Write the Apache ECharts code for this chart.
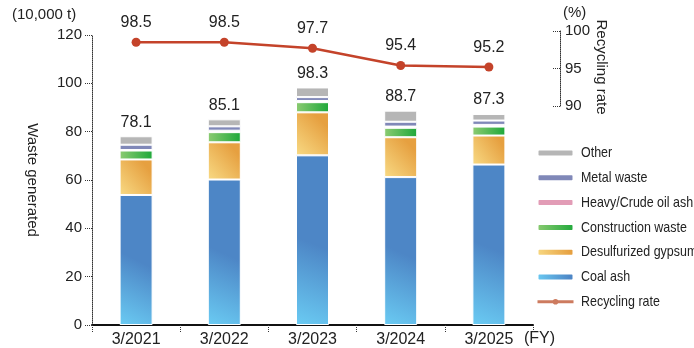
<!DOCTYPE html>
<html><head><meta charset="utf-8">
<script src="https://cdn.jsdelivr.net/npm/echarts@6/dist/echarts.min.js"></script>
<style>html,body{margin:0;padding:0;background:#fff}#c{width:694px;height:348px}</style>
</head><body><div id="c"></div>
<script>
const categories = ['3/2021','3/2022','3/2023','3/2024','3/2025'];
const coalAsh = [53.8, 60.2, 70.2, 61.2, 66.4];
const gypsum = [14.7, 15.4, 17.8, 16.5, 12.0];
const construction = [3.7, 4.2, 4.2, 3.9, 3.7];
const heavyOilAsh = [0.2, 0.6, 0.5, 0.5, 0.7];
const metalWaste = [2.2, 1.8, 1.6, 2.0, 1.8];
const other = [3.5, 2.9, 4.0, 4.6, 2.7];
const totals = [78.1, 85.1, 98.3, 88.7, 87.3];
const recyclingRate = [98.5, 98.5, 97.7, 95.4, 95.2];
const leftTicks = [0, 20, 40, 60, 80, 100, 120];
const rightTicks = [90, 95, 100];
const legendNames = ['Other','Metal waste','Heavy/Crude oil ash','Construction waste','Desulfurized gypsum','Coal ash','Recycling rate'];

const FONT = 'Liberation Sans, Arial, sans-serif';
const grad = (x, y, x2, y2, c1, c2) => ({type:'linear', x, y, x2, y2, colorStops:[{offset:0,color:c1},{offset:1,color:c2}]});

const barBase = {type:'bar', stack:'w', barWidth:33, xAxisIndex:0, yAxisIndex:0};
const border = {borderColor:'#fff', borderWidth:1};

const LEG_TOP = 153, LEG_STEP = 24.8;
const legendTexts = legendNames.map((n, i) => ({
  type:'text', x:581, y:LEG_TOP + i*LEG_STEP, scaleX:0.83,
  style:{text:n, fontSize:15, fill:'#222', fontFamily:FONT, textVerticalAlign:'middle'}
}));

const chart = echarts.init(document.getElementById('c'));
chart.setOption({
  animation:false,
  textStyle:{fontFamily:FONT},
  grid:[
    {left:92, right:161, top:35, bottom:23},
    {left:92, right:161, top:31, height:75}
  ],
  xAxis:[
    {type:'category', gridIndex:0, data:categories,
     axisLine:{lineStyle:{color:'#111', width:2}},
     axisTick:{show:true, length:7, lineStyle:{color:'#333', type:'dotted'}},
     axisLabel:{fontSize:16, color:'#222', margin:7, fontFamily:FONT}},
    {type:'category', gridIndex:1, data:categories, show:false}
  ],
  yAxis:[
    {type:'value', gridIndex:0, min:0, max:120, interval:20,
     splitLine:{show:false},
     axisLine:{show:true, lineStyle:{color:'#333', type:'dotted'}},
     axisTick:{show:true, length:7, lineStyle:{color:'#333', type:'dotted'}},
     axisLabel:{fontSize:15, color:'#222', margin:10,
       formatter:v => leftTicks.includes(v) ? String(v) : ''}},
    {type:'value', gridIndex:1, position:'right', offset:27, min:90, max:100, interval:5,
     splitLine:{show:false},
     axisLine:{show:true, lineStyle:{color:'#333', type:'dotted'}},
     axisTick:{show:true, inside:true, length:7, lineStyle:{color:'#333', type:'dotted'}},
     axisLabel:{fontSize:15, color:'#222', margin:5,
       formatter:v => rightTicks.includes(v) ? String(v) : ''}}
  ],
  legend:{
    orient:'vertical', left:536, top:LEG_TOP - 8, padding:0, itemWidth:36, itemHeight:7, itemGap:LEG_STEP - 16,
    textStyle:{fontSize:15, color:'rgba(0,0,0,0)', lineHeight:16, height:16},
    formatter:() => ' ',
    data:legendNames.map(n => n === 'Recycling rate'
      ? {name:n, itemStyle:{color:'#CD7B5F'}, lineStyle:{color:'#CD7B5F', width:3}}
      : {name:n})
  },
  series:[
    Object.assign({}, barBase, {name:'Coal ash', data:coalAsh,
      itemStyle:Object.assign({color:grad(0,1,0.9,0.55,'#6ACBF3','#4D86C6')}, border)}),
    Object.assign({}, barBase, {name:'Desulfurized gypsum', data:gypsum,
      itemStyle:Object.assign({color:grad(0,1,0.9,0.3,'#F8DA84','#E6A040')}, border)}),
    Object.assign({}, barBase, {name:'Construction waste', data:construction,
      itemStyle:Object.assign({color:grad(0,0,1,0,'#8CCB72','#1EA83A')}, border)}),
    Object.assign({}, barBase, {name:'Heavy/Crude oil ash', data:heavyOilAsh,
      itemStyle:Object.assign({color:'#E29CB6'}, border)}),
    Object.assign({}, barBase, {name:'Metal waste', data:metalWaste,
      itemStyle:Object.assign({color:'#8088B8'}, border)}),
    Object.assign({}, barBase, {name:'Other', data:other,
      itemStyle:Object.assign({color:'#B6B6B6'}, border),
      label:{show:true, position:'top', distance:6, fontSize:16, color:'#222',
        formatter:p => totals[p.dataIndex].toFixed(1)}}),
    {type:'line', name:'Recycling rate', xAxisIndex:1, yAxisIndex:1, data:recyclingRate,
     symbol:'circle', symbolSize:9,
     lineStyle:{color:'#C4432A', width:2.5}, itemStyle:{color:'#C4432A'},
     label:{show:true, position:'top', distance:7, fontSize:16, color:'#222',
       formatter:p => p.value.toFixed(1)}}
  ],
  graphic:[
    {type:'text', left:12, top:7, style:{text:'(10,000 t)', fontSize:15, fill:'#222', fontFamily:FONT}},
    {type:'text', x:32, y:180, rotation:-Math.PI/2,
     style:{text:'Waste generated', fontSize:15, fill:'#222', fontFamily:FONT, textAlign:'center', textVerticalAlign:'middle'}},
    {type:'text', left:563, top:5, style:{text:'(%)', fontSize:15, fill:'#222', fontFamily:FONT}},
    {type:'text', x:601, y:67, rotation:-Math.PI/2,
     style:{text:'Recycling rate', fontSize:15, fill:'#222', fontFamily:FONT, textAlign:'center', textVerticalAlign:'middle'}},
    {type:'text', left:524, top:331, style:{text:'(FY)', fontSize:16, fill:'#222', fontFamily:FONT}}
  ].concat(legendTexts)
});
</script></body></html>
